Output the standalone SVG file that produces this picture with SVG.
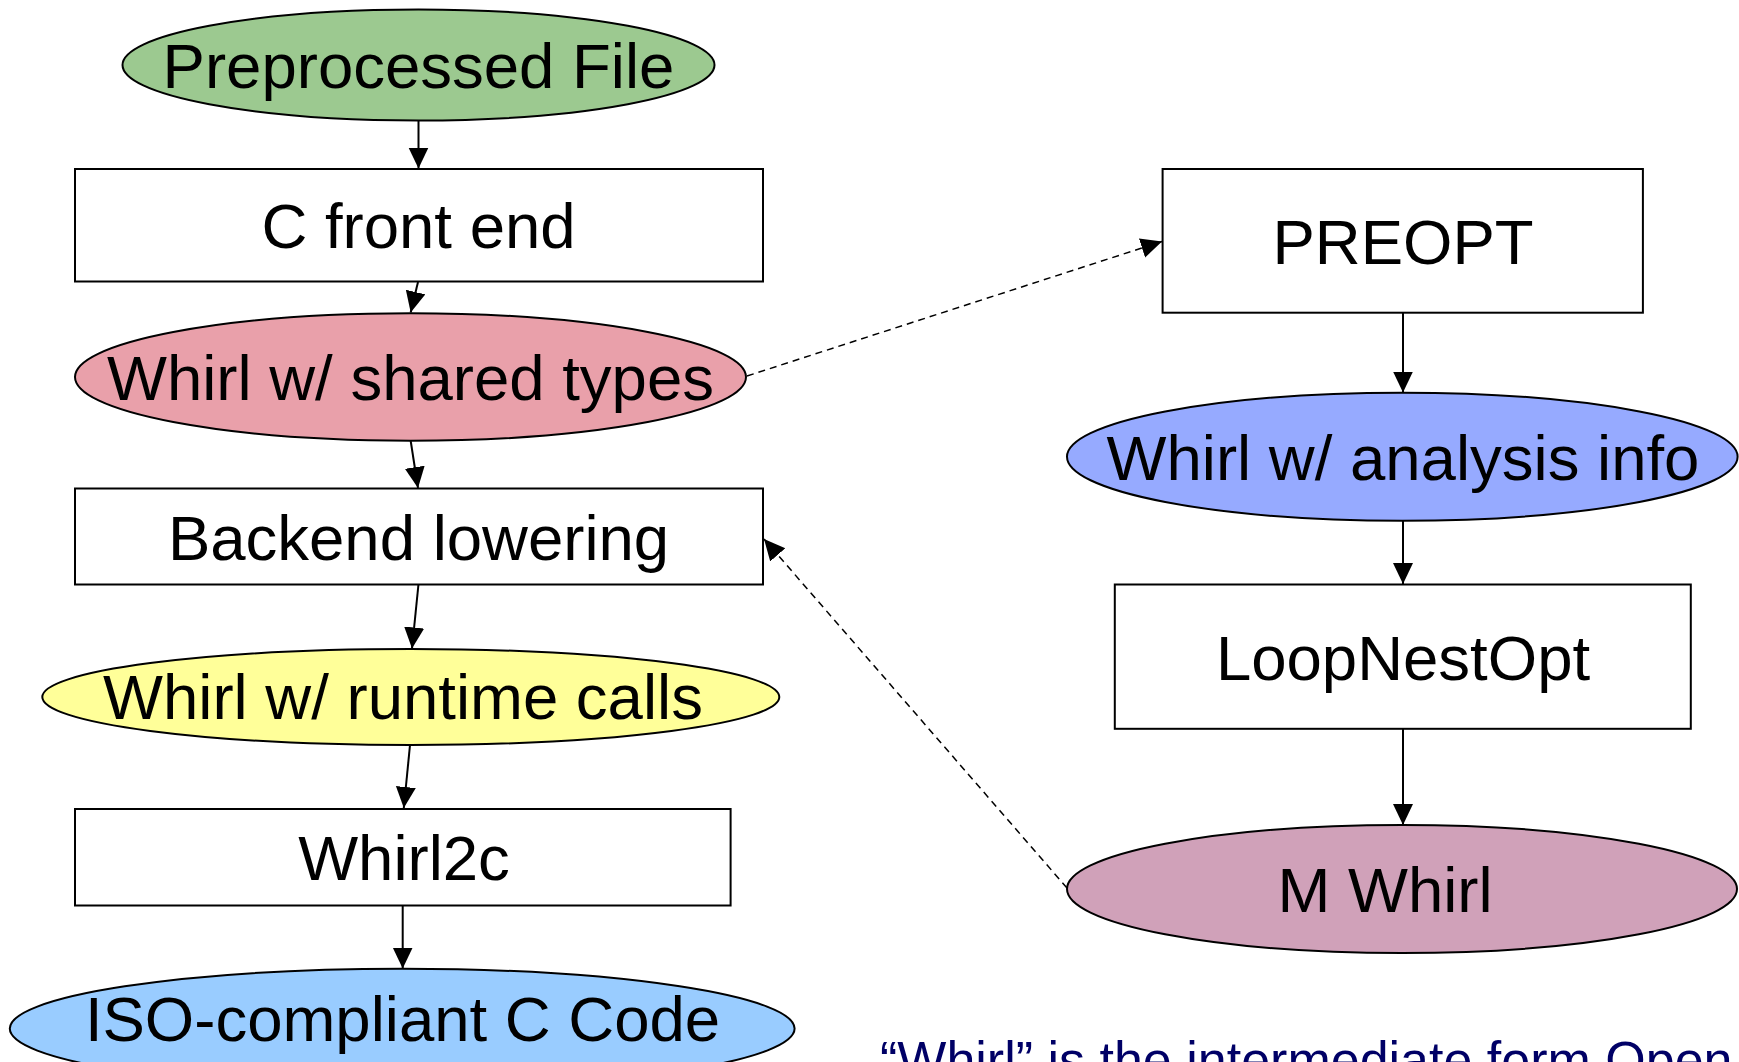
<svg xmlns="http://www.w3.org/2000/svg" width="1739" height="1062" viewBox="0 0 1739 1062">
  <style>
    .box { fill: #ffffff; stroke: #000000; stroke-width: 2; }
    .ell { stroke: #000000; stroke-width: 2; }
    .lbl { font-family: "Liberation Sans", Arial, sans-serif; font-size: 63.5px; fill: #000000; text-anchor: middle; }
    .conn { stroke: #000000; stroke-width: 2; fill: none; marker-end: url(#arrow); }
    .dash { stroke: #000000; stroke-width: 1.5; fill: none; stroke-dasharray: 7 5; marker-end: url(#arrow); }
    .note { font-family: "Liberation Sans", Arial, sans-serif; font-size: 52px; fill: #000066; }
  </style>
  <defs>
    <marker id="arrow" markerUnits="userSpaceOnUse" markerWidth="22" markerHeight="22" refX="21" refY="10" orient="auto">
      <path d="M0,0 L21,10 L0,20 Z" fill="#000000"/>
    </marker>
  </defs>
  <rect width="1739" height="1062" fill="#ffffff"/>

  <g id="connectors">
    <line class="conn" x1="418.5" y1="121" x2="418.5" y2="168.5"/>
    <line class="conn" x1="418" y1="282" x2="410.7" y2="312.5"/>
    <line class="conn" x1="410.7" y1="441" x2="418" y2="488"/>
    <line class="conn" x1="418.4" y1="585" x2="412" y2="648.5"/>
    <line class="conn" x1="410" y1="745" x2="403.8" y2="808"/>
    <line class="conn" x1="402.7" y1="906" x2="402.7" y2="968.5"/>
    <line class="conn" x1="1403" y1="313" x2="1403" y2="392.5"/>
    <line class="conn" x1="1403" y1="521" x2="1403" y2="584"/>
    <line class="conn" x1="1403" y1="729" x2="1403" y2="825"/>
    <line class="dash" x1="747" y1="376" x2="1162" y2="241.5"/>
    <line class="dash" x1="1067" y1="888" x2="764" y2="539"/>
  </g>

  <g id="preprocessed-file">
    <ellipse class="ell" cx="418.5" cy="65" rx="296" ry="55.5" fill="#9CC990"/>
    <text class="lbl" x="418.5" y="88">Preprocessed File</text>
  </g>
  <g id="c-front-end">
    <rect class="box" x="75" y="169" width="688" height="112.5"/>
    <text class="lbl" x="418.5" y="248">C front end</text>
  </g>
  <g id="whirl-shared-types">
    <ellipse class="ell" cx="410.5" cy="377" rx="335.5" ry="63.7" fill="#E9A0AA"/>
    <text class="lbl" x="410.5" y="400">Whirl w/ shared types</text>
  </g>
  <g id="backend-lowering">
    <rect class="box" x="75" y="488.5" width="688" height="96"/>
    <text class="lbl" x="418.5" y="560">Backend lowering</text>
  </g>
  <g id="whirl-runtime-calls">
    <ellipse class="ell" cx="410.8" cy="697" rx="368.5" ry="48" fill="#FFFF99"/>
    <text class="lbl" x="403" y="719">Whirl w/ runtime calls</text>
  </g>
  <g id="whirl2c">
    <rect class="box" x="75" y="809" width="655.6" height="96.5"/>
    <text class="lbl" x="404" y="880">Whirl2c</text>
  </g>
  <g id="iso-c-code">
    <ellipse class="ell" cx="402.2" cy="1028.6" rx="392.4" ry="59.8" fill="#99CCFF"/>
    <text class="lbl" x="402.5" y="1041">ISO-compliant C Code</text>
  </g>

  <g id="preopt">
    <rect class="box" x="1162.6" y="169" width="480.3" height="143.7"/>
    <text class="lbl" x="1403" y="264">PREOPT</text>
  </g>
  <g id="whirl-analysis-info">
    <ellipse class="ell" cx="1402.3" cy="456.7" rx="335.3" ry="64" fill="#96AAFF"/>
    <text class="lbl" x="1403" y="479.5">Whirl w/ analysis info</text>
  </g>
  <g id="loopnestopt">
    <rect class="box" x="1114.8" y="584.5" width="576" height="144.3"/>
    <text class="lbl" x="1403" y="680">LoopNestOpt</text>
  </g>
  <g id="m-whirl">
    <ellipse class="ell" cx="1402" cy="889" rx="335" ry="64" fill="#D0A1B9"/>
    <text class="lbl" x="1385" y="911.5">M Whirl</text>
  </g>

  <text class="note" x="880" y="1078">“Whirl” is the intermediate form Open</text>
</svg>
